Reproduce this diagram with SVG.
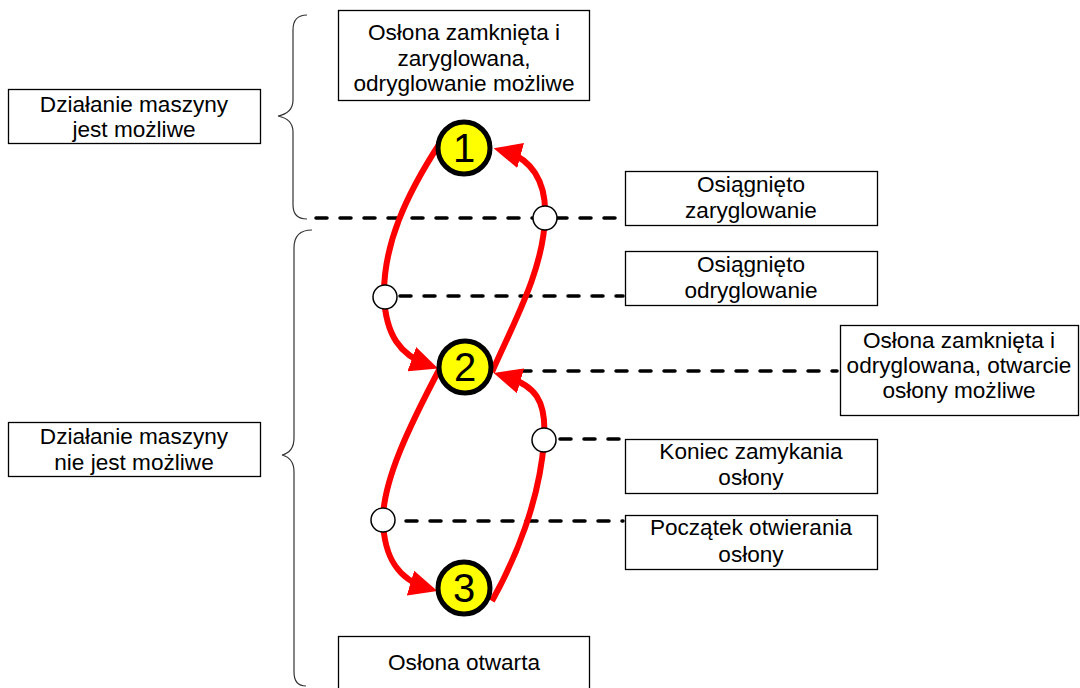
<svg xmlns="http://www.w3.org/2000/svg" width="1080" height="688" viewBox="0 0 1080 688">
<style>
.box{fill:#fff;stroke:#000;stroke-width:1.3}
.t{font-family:"Liberation Sans",Arial,sans-serif;font-size:22.6px;fill:#000;text-anchor:middle}
.num{font-family:"Liberation Sans",Arial,sans-serif;font-size:40px;fill:#000;text-anchor:middle}
.state{fill:#ffff00;stroke:#000;stroke-width:5}
.ev{fill:#fff;stroke:#000;stroke-width:1.5}
.dash{stroke:#000;stroke-width:3.5;stroke-dasharray:11 13;stroke-linecap:round;fill:none}
.red{stroke:#ff0000;stroke-width:6;fill:none;marker-end:url(#arr)}
.brace{stroke:#333;stroke-width:1.2;fill:none}
</style>
<defs>
<marker id="arr" markerUnits="userSpaceOnUse" markerWidth="28" markerHeight="26" refX="16" refY="12" orient="auto" viewBox="0 0 26 24">
<path d="M0,0 L26,12 L0,24 z" fill="#ff0000"/>
</marker>
</defs>
<rect width="1080" height="688" fill="#fff"/>
<g id="braces">
<path class="brace" d="M307,15 Q293,15 293,30 L293,100 Q293,113 278,116 Q293,119 293,132 L293,205 Q293,219 307,219"/>
<path class="brace" d="M312,230 Q294,230 294,248 L294,438 Q294,452 282,455 Q294,458 294,472 L294,672 Q294,686 306,686"/>
</g>
<g id="connectors">
<line class="dash" x1="316" y1="218" x2="623" y2="218"/>
<line class="dash" x1="400" y1="296" x2="623" y2="296"/>
<line class="dash" x1="520" y1="371" x2="837" y2="371"/>
<line class="dash" x1="560" y1="439" x2="623" y2="439"/>
<line class="dash" x1="406" y1="521" x2="623" y2="521"/>
<path class="red" d="M440,143 C406,195 383,245 384,297 C386,335 400,355 428,365"/>
<path class="red" d="M492,372 C515,320 543,270 545,218 C547,180 530,158 504,151"/>
<path class="red" d="M440,368 C410,425 383,480 383,520 C384,560 400,580 427,588"/>
<path class="red" d="M492,601 C515,560 540,500 544,440 C547,400 535,385 504,376"/>
</g>
<g id="state1"><circle class="state" cx="464" cy="148" r="26"/><text class="num" x="464" y="162">1</text></g>
<g id="state2"><circle class="state" cx="465" cy="367" r="26"/><text class="num" x="465" y="381">2</text></g>
<g id="state3"><circle class="state" cx="464" cy="588" r="26"/><text class="num" x="464" y="602">3</text></g>
<g id="ev1"><circle class="ev" cx="545" cy="218" r="12"/></g>
<g id="ev2"><circle class="ev" cx="385" cy="297" r="12"/></g>
<g id="ev3"><circle class="ev" cx="544" cy="440" r="12"/></g>
<g id="ev4"><circle class="ev" cx="383" cy="520" r="12"/></g>
<g id="box-top"><rect class="box" x="338.5" y="10.5" width="251" height="90"/>
<text class="t" x="464" y="40">Osłona zamknięta i</text><text class="t" x="464" y="66">zaryglowana,</text><text class="t" x="464" y="91">odryglowanie możliwe</text></g>
<g id="box-mozliwe"><rect class="box" x="8.5" y="89.5" width="252" height="54"/>
<text class="t" x="134" y="112">Działanie maszyny</text><text class="t" x="134" y="137">jest możliwe</text></g>
<g id="box-zaryglowanie"><rect class="box" x="625.5" y="171.5" width="252" height="54"/>
<text class="t" x="751" y="192">Osiągnięto</text><text class="t" x="751" y="218">zaryglowanie</text></g>
<g id="box-odryglowanie"><rect class="box" x="625.5" y="251.5" width="252" height="54"/>
<text class="t" x="751" y="272">Osiągnięto</text><text class="t" x="751" y="298">odryglowanie</text></g>
<g id="box-right"><rect class="box" x="840.5" y="325.5" width="238" height="90"/>
<text class="t" x="959" y="348">Osłona zamknięta i</text><text class="t" x="959" y="373">odryglowana, otwarcie</text><text class="t" x="959" y="398">osłony możliwe</text></g>
<g id="box-niemozliwe"><rect class="box" x="8.5" y="422.5" width="252" height="54"/>
<text class="t" x="134" y="444">Działanie maszyny</text><text class="t" x="134" y="470">nie jest możliwe</text></g>
<g id="box-koniec"><rect class="box" x="625.5" y="439.5" width="252" height="54"/>
<text class="t" x="751" y="459">Koniec zamykania</text><text class="t" x="751" y="485">osłony</text></g>
<g id="box-poczatek"><rect class="box" x="625.5" y="515.5" width="252" height="54"/>
<text class="t" x="751" y="535">Początek otwierania</text><text class="t" x="751" y="562">osłony</text></g>
<g id="box-otwarta"><rect class="box" x="338.5" y="636.5" width="251" height="60"/>
<text class="t" x="464" y="670">Osłona otwarta</text></g>
</svg>
